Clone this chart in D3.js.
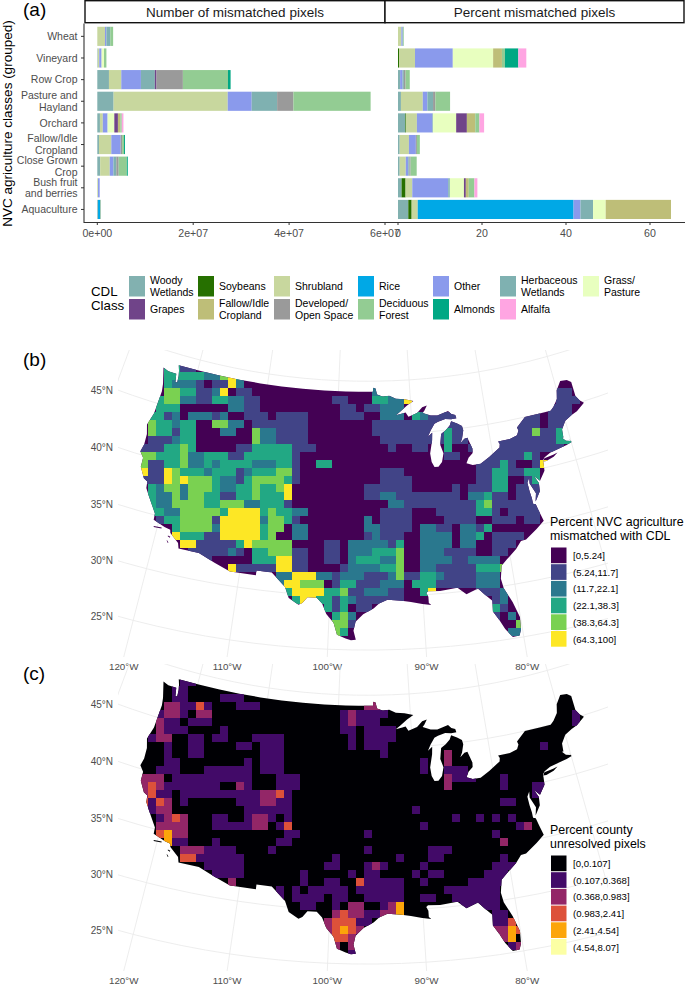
<!DOCTYPE html>
<html>
<head>
<meta charset="utf-8">
<script src="https://cdn.jsdelivr.net/npm/d3@7"></script>
<style>
  html, body { margin: 0; padding: 0; background: #fff; }
  text { font-family: "Liberation Sans", Arial, sans-serif; }
</style>
</head>
<body>
<div id="vis"></div>
<script>
// ---- panel (a) data ----
const nvcClasses = ["Wheat", "Vineyard", "Row Crop", "Pasture and\nHayland", "Orchard",
  "Fallow/Idle\nCropland", "Close Grown\nCrop", "Bush fruit\nand berries", "Aquaculture"];

// first seven are the top legend row, the rest the bottom one
const cdlClasses = ["Woody\nWetlands", "Soybeans", "Shrubland", "Rice", "Other", "Herbaceous\nWetlands", "Grass/\nPasture",
  "Grapes", "Fallow/Idle\nCropland", "Developed/\nOpen Space", "Deciduous\nForest", "Almonds", "Alfalfa"];

const cdlColors = ["#82B1B0", "#267000", "#C8D79E", "#00A8E6", "#8A9AEC", "#7FB1B1", "#E8FFBF",
  "#704489", "#BEBE78", "#9A9A9A", "#93CC93", "#00A884", "#FFA5E2"];

// same order as cdlClasses, units of 1e7 pixels
const pixelCounts = [
  [0, 0, .16, 0, .03, .08, 0, 0, 0, 0, .06, 0, 0],
  [.01, 0, .03, 0, .05, 0, .05, 0, 0, 0, .05, 0, 0],
  [.243, 0, .257, 0, .41, .29, 0, .035, 0, .55, .94, .055, 0],
  [.34, 0, 2.38, 0, .5, .53, 0, 0, 0, .34, 1.61, 0, 0],
  [.055, 0, .06, 0, .10, 0, .14, .075, .05, 0, .03, 0, .035],
  [.035, 0, .257, 0, .195, 0, 0, 0, 0, .03, .04, .02, 0],
  [.06, 0, .2, 0, .076, .06, 0, 0, 0, .05, .17, .02, 0],
  [0, 0, .015, 0, .035, 0, 0, 0, 0, 0, 0, 0, 0],
  [.015, 0, 0, .05, 0, 0, 0, 0, .01, 0, 0, 0, 0]
];

const percentMismatched = [
  [0, 0, .8, 0, .3, .15, 0, 0, 0, 0, .15, 0, 0],
  [0, .25, 3.8, 0, 9.0, 0, 9.6, 0, 2.1, 0, .7, 3.2, 1.9],
  [.5, 0, 0, 0, .6, .3, 0, 0, 0, .4, 1.0, 0, 0],
  [.7, 0, 5.2, 0, 1.1, 1.35, 0, 0, 0, .55, 3.5, 0, 0],
  [1.75, .15, 2.6, 0, 3.7, .15, 5.5, 2.55, 2.0, 0, 1.0, 0, 1.1],
  [.4, 0, 2.2, 0, 1.65, 0, 0, 0, 0, .25, .7, 0, 0],
  [.4, 0, 1.45, 0, .6, .25, 0, 0, 0, .3, 1.45, 0, 0],
  [.85, .95, 1.6, 0, 8.55, .4, 3.35, .45, .7, 0, 1.35, 0, .7],
  [2.45, .8, 1.45, 37.1, 1.65, 3.0, 3.0, 0, 15.55, 0, 0, 0, 0]
];

// ---- panels (b), (c) data ----
const mismatchBins = ["[0,5.24]", "(5.24,11.7]", "(11.7,22.1]", "(22.1,38.3]", "(38.3,64.3]", "(64.3,100]"];
const mismatchColors = ["#440154", "#414487", "#2A788E", "#22A884", "#7AD151", "#FDE725"];
const unresolvedBins = ["[0,0.107]", "(0.107,0.368]", "(0.368,0.983]", "(0.983,2.41]", "(2.41,4.54]", "(4.54,8.07]"];
const unresolvedColors = ["#000004", "#420A68", "#932667", "#DD513A", "#FCA50A", "#FCFFA4"];

// bin index per map block, one line per row of blocks: "west|east"
const mismatchRows = [
  "0003311|",
  "0003333322453|",
  "0003222101152|",
  "00044331125011|00002000000000000000000000011",
  "0034422113322110000000001|100033225000000000000000000111",
  "003330000002211|11011222000000000000000000111",
  "033120222120011101111|11100222032111111111111110111",
  "043323300442201111111|00001111111111111111111110111",
  "043313300022004221111|00001111111113111111111141131",
  "011123300000004221111|00000111111113110111111111133",
  "1113343000001133333111|0000001001100300111111111111",
  "44333422333113333331|000000000000011001111113100",
  "411334223233332223310033|00000000000000000111310015",
  "51154333233312333441|0000011100000000011331133",
  "11154544432213444431|0000011110000000011330013",
  "0324424443223343345|0001111110000010111330111",
  "0322424433113343335|0001122111111110223110111",
  "0322444433444223331|0000002211111111134111111",
  "033224444435555343322|0000011110001111133101111",
  "00133444415555524431|0002011110000111100111011",
  "000034444255555344022|0002211110221102213",
  "000053331155555340022|00012111002222022301111",
  "0000055111113544444000011|0222221300222202200111",
  "0000001111121033444110011|022233340022211110011",
  "0000000010000033355110011|02333224002222112222",
  "000000000005111115511|122223340022111113334",
  "0000000000000000022555221|22211124113321111222",
  "0000000000000000025544401|33111222033311111222",
  "0000000000000000003555533|411222110035000001112",
  "0000000000000000000355331|321111110000000000012",
  "0000000000000000000000031|301100000000000000031",
  "0000000000000000000000003|42000000000000000001020",
  "0000000000000000000000004|41000000000000000000004",
  "0000000000000000000000004|30000000000000000000022",
  "|00"
];

const unresolvedRows = [
  "0000011|",
  "000011|",
  "0000110000111|",
  "000221131000111|00022",
  "001221022|121111000000000000000000000001",
  "002110111|121110000000000000000000000001",
  "002111000010|1101111",
  "012200110110001111|0101111",
  "000100110000110111|01011100000000000000000001",
  "000100110000000111|00000100000002",
  "000110000000010111|00000000001002",
  "001110001111110111|0000000000100111",
  "22201111111111000111|000000000000021110001",
  "23211111110021000111|00000000000002000000100011",
  "2311011111111112231|00000000000000000000000011",
  "3132010000001112211|0000000000000000000011",
  "0122000000000111111|0000000001",
  "0012320001100122101|0000000000000010010101",
  "0022220001111122013|000000000010000000000012",
  "00342200000000000011|00010000000000000001",
  "0004110001000000011|000000000000000000002",
  "00000222111100001|00010000000111",
  "0000033111111000000000001|000000010001100000001",
  "0000000011111000000000011|0001210000100000000111",
  "000000000111100000001|010110000101100000111",
  "0000000000020000000010011|0031111100100000111111",
  "0000000000000000010101111|10111111000001111111",
  "0000000000000000010111101|10011111001100111111",
  "0000000000000000000011001|02200124000000011111",
  "0000000000000000000000002|322112240000000000011",
  "0000000000000000000000023|3311000000000000000113",
  "0000000000000000000000023|43200000000000000002243",
  "0000000000000000000000003|32100000000000000000240",
  "0000000000000000000000002|02100000000000000000012",
  "|01000000000000000000002"
];

// ---- US outline, lon/lat ----
const usOutline = [[-124.7,48.38],[-123.9,48.16],[-123.1,48.15],[-122.75,48.15],[-122.55,47.4],[-122.3,47.4],[-122.35,48.0],[-122.5,48.5],[-122.75,49],
  [-120,49],[-117,49],[-114,49],[-111,49],[-108,49],[-105,49],[-102,49],[-99,49],[-97.2,49],[-95.15,49],[-95.15,49.38],[-94.8,49.3],[-94.6,48.75],[-93.8,48.55],[-92.9,48.6],[-92,48.3],[-90.8,48.2],[-89.6,48],
  [-90.5,47.6],[-91.5,47.05],[-92.1,46.75],[-91.2,46.87],[-90.75,46.95],[-90.4,46.55],[-89.2,46.85],[-88.45,47.35],[-87.8,47.47],[-88.2,47],[-88.45,46.8],[-87.4,46.5],[-86.5,46.45],[-85,46.75],[-84.6,46.45],[-84.1,46.3],[-84,46],[-84.7,45.95],
  [-85.5,46.05],[-86.5,45.85],[-87,45.7],[-87.6,45.1],[-88,44.55],[-87.4,44.9],[-87.5,44.2],[-87.9,43],[-87.8,42.2],[-87.5,41.7],[-87,41.7],[-86.5,42.1],[-86.2,42.9],[-86.5,43.7],[-86.25,44.7],[-85.6,45],[-85,45.4],[-84.75,45.78],
  [-84,45.5],[-83.4,45.2],[-83.3,44.8],[-83.6,44.05],[-83.9,43.65],[-83.3,44],[-82.9,44.05],[-82.45,43],[-82.5,42.6],[-83.1,42.2],[-83.45,41.73],[-82.7,41.5],[-81.7,41.5],[-80.5,42],[-79,42.7],[-78.9,43],[-79.05,43.27],[-77.5,43.28],[-76.5,43.5],[-76.2,43.9],[-76.3,44.2],[-75,45],
  [-73,45],[-71.5,45],[-71,45.3],[-70.3,45.9],[-70,46.7],[-69.2,47.45],[-68.3,47.35],[-67.8,47.05],[-67.8,45.7],[-67.45,45.2],[-67,44.85],[-68.2,44.3],[-69,44.1],[-70,43.75],[-70.7,43.05],[-70.8,42.3],[-71,42.3],[-70.6,41.95],[-70,41.8],[-70.2,42.07],[-69.95,41.7],[-70.65,41.55],[-71.4,41.45],[-72.9,41.25],[-73.7,40.95],[-74,40.7],
  [-74,40.45],[-74.1,39.75],[-74.9,38.95],[-75.5,39.5],[-75.1,38.75],[-75.2,38],[-75.95,37.15],[-75.7,37.9],[-76.2,38.9],[-76.1,39.45],[-76.45,39],[-76.4,38.2],[-76.3,37.5],[-76.3,37],[-76,36.9],[-75.8,36.2],[-75.5,35.25],[-76.5,34.65],[-77.9,33.9],[-78.5,33.85],[-79.2,33.2],[-80.4,32.4],[-81.1,31.9],[-81.4,30.7],[-81.25,29.8],[-80.55,28.4],[-80.05,26.9],[-80.15,25.75],[-80.4,25.2],[-81.1,25.15],[-81.75,26],[-82.2,26.9],[-82.75,27.8],[-82.65,28.8],[-83.4,29.5],[-84,30.1],[-85.3,29.7],[-86.2,30.4],[-87.5,30.3],[-88.1,30.25],[-89.4,30.3],[-89.6,30.15],[-89.4,29.8],[-89.4,29.2],[-89.15,29],[-90.1,29.15],[-91.3,29.4],[-92.3,29.55],[-93.8,29.7],[-94.7,29.35],[-95.3,28.9],[-96.4,28.35],[-97.2,27.65],[-97.4,26.8],[-97.15,25.97],
  [-97.65,25.9],[-98.2,26.07],[-99.1,26.4],[-99.5,27.5],[-100.3,28.3],[-100.8,29.25],[-101.4,29.77],[-102.4,29.77],[-102.9,29.2],[-103.3,29],[-104.4,29.55],[-104.9,30.55],[-106.5,31.75],[-108.2,31.78],[-108.2,31.33],[-111.07,31.33],[-112.9,31.9],[-114.8,32.5],[-117.12,32.53],
  [-117.3,33],[-118.4,33.75],[-118.5,34.03],[-119.2,34.15],[-120.6,34.55],[-120.65,35.15],[-121.9,36.6],[-122.4,37.2],[-122.5,37.8],[-123,38],[-123.75,38.95],[-123.8,39.8],[-124.35,40.3],[-124.15,41],[-124.2,42],[-124.55,42.85],[-124.1,44],[-123.95,46.2],[-124.1,46.9],[-124.7,48.38]];
const longIsland = [[-74,40.6],[-73.75,40.87],[-72.6,41],[-72,41.1],[-72.6,40.8],[-73.6,40.58],[-74,40.6]];
const channelIslands = [
  [[-120.4,34],[-119.5,34.05],[-119.5,33.95],[-120.4,33.9],[-120.4,34]],
  [[-118.6,33.48],[-118.3,33.4],[-118.35,33.3],[-118.6,33.4],[-118.6,33.48]],
  [[-118.6,33.05],[-118.35,32.85],[-118.45,32.8],[-118.6,33.0],[-118.6,33.05]]
];

const latTicks = [45, 40, 35, 30, 25];
const lonTicks = [-120, -110, -100, -90, -80];

// ---- layout ----
const width = 685, height = 985;
const svg = d3.select("#vis").append("svg").attr("width", width).attr("height", height);
const greyText = "#4D4D4D";

function panelLabel(txt, y) {
  svg.append("text").attr("x", 23).attr("y", y).attr("font-size", 19).attr("fill", "#000").text(txt);
}

// ---- (a) stacked bars ----
const y = d3.scaleBand().domain(nvcClasses).range([25.7, 220.1]).paddingInner(0.115).paddingOuter(0.05);
const xCount = d3.scaleLinear().domain([0, 6]).range([97.3, 385]);
const xPct = d3.scaleLinear().domain([0, 60]).range([398, 650]);
const stack = d3.stack().keys(d3.range(cdlClasses.length));

function drawBars(values, x) {
  const g = svg.append("g");
  stack(values).forEach((s, k) => {
    g.selectAll(null).data(s).join("rect")
      .attr("x", d => x(d[0]))
      .attr("width", d => x(d[1]) - x(d[0]))
      .attr("y", (d, i) => y(nvcClasses[i]))
      .attr("height", y.bandwidth())
      .attr("fill", cdlColors[k]);
  });
}
drawBars(pixelCounts, xCount);
drawBars(percentMismatched, xPct);

// strips
[["Number of mismatched pixels", 85, 385], ["Percent mismatched pixels", 385, 684]].forEach(s => {
  svg.append("rect").attr("x", s[1]).attr("y", .7).attr("width", s[2] - s[1]).attr("height", 22)
    .attr("fill", "#fff").attr("stroke", "#111").attr("stroke-width", 1.4);
  svg.append("text").attr("x", (s[1] + s[2]) / 2).attr("y", 16.6).attr("text-anchor", "middle")
    .attr("font-size", 13.5).attr("fill", "#1a1a1a").text(s[0]);
});

// axes
const axisLine = "#333";
svg.append("path").attr("d", "M84,23.5V222.5H685").attr("fill", "none").attr("stroke", axisLine).attr("stroke-width", 1.1);
const axG = svg.append("g");
[0, 2, 4, 6].forEach(v => {
  axG.append("line").attr("x1", xCount(v)).attr("x2", xCount(v)).attr("y1", 222).attr("y2", 225).attr("stroke", axisLine);
  axG.append("text").attr("x", xCount(v)).attr("y", 236.5).attr("text-anchor", "middle").attr("font-size", 10.6).attr("fill", greyText)
    .text(v === 0 ? "0e+00" : v + "e+07");
});
[0, 20, 40, 60].forEach(v => {
  axG.append("line").attr("x1", xPct(v)).attr("x2", xPct(v)).attr("y1", 222).attr("y2", 225).attr("stroke", axisLine);
  axG.append("text").attr("x", xPct(v)).attr("y", 236.5).attr("text-anchor", "middle").attr("font-size", 10.6).attr("fill", greyText).text(v);
});
nvcClasses.forEach(c => {
  const cy = y(c) + y.bandwidth() / 2;
  axG.append("line").attr("x1", 81).attr("x2", 84).attr("y1", cy).attr("y2", cy).attr("stroke", axisLine);
  const lines = c.split("\n");
  lines.forEach((l, i) => {
    axG.append("text").attr("x", 77.5).attr("y", cy + 3.7 + (i - (lines.length - 1) / 2) * 11.6)
      .attr("text-anchor", "end").attr("font-size", 10.5).attr("fill", greyText).text(l);
  });
});
svg.append("text").attr("transform", "translate(12,123.5) rotate(-90)").attr("text-anchor", "middle")
  .attr("font-size", 13.5).attr("fill", "#000").text("NVC agriculture classes (grouped)");
panelLabel("(a)", 16);

// ---- CDL legend ----
svg.append("text").attr("x", 91).attr("y", 295.5).attr("font-size", 13.3).text("CDL");
svg.append("text").attr("x", 91).attr("y", 310).attr("font-size", 13.3).text("Class");
const swatchX = [129, 198, 274, 358, 433, 500, 583];
cdlClasses.forEach((c, k) => {
  const col = k < 7 ? k : k - 7, top = k < 7 ? 276 : 299;
  svg.append("rect").attr("x", swatchX[col]).attr("y", top).attr("width", 16).attr("height", 20.5).attr("fill", cdlColors[k]);
  const lines = c.split("\n");
  lines.forEach((l, j) => {
    svg.append("text").attr("x", swatchX[col] + 21).attr("y", top + 14 + (j - (lines.length - 1) / 2) * 11.6)
      .attr("font-size", 10.5).attr("fill", "#000").text(l);
  });
});

// ---- maps ----
const xBlock = d3.scaleBand().domain(d3.range(56)).range([140, 588]);

function drawMap(id, dy, rows, colors) {
  const projection = d3.geoConicEqualArea().parallels([29.5, 45.5]).rotate([96, 0]).center([0, 0]).scale(615).translate([367, 900 + dy]);
  const path = d3.geoPath(projection);
  const land = { type: "MultiPolygon", coordinates: [[usOutline], [longIsland]].concat(channelIslands.map(p => [p])) };

  const defs = svg.append("defs");
  defs.append("clipPath").attr("id", "panel" + id).append("rect").attr("x", 118).attr("y", 350 + dy).attr("width", 490).attr("height", 307);
  defs.append("clipPath").attr("id", "land" + id).append("path").attr("d", path(land));

  svg.append("path").attr("clip-path", `url(#panel${id})`)
    .attr("d", path(d3.geoGraticule().extent([[-140, 15], [-50, 60]]).step([10, 5])()))
    .attr("fill", "none").attr("stroke", "#EBEBEB").attr("stroke-width", 0.9);

  svg.append("path").attr("d", path(land)).attr("fill", colors[0]);

  const yBlock = d3.scaleBand().domain(d3.range(rows.length)).range([364 + dy, 364 + dy + 8 * rows.length]);
  const blocks = [];
  rows.forEach((row, r) => {
    const [west, east] = row.split("|");
    (west.padEnd(25, "0") + east).split("").forEach((ch, c) => {
      if (ch !== "0") blocks.push({ r, c, bin: +ch });
    });
  });
  svg.append("g").attr("clip-path", `url(#land${id})`).selectAll("rect").data(blocks).join("rect")
    .attr("x", d => xBlock(d.c)).attr("y", d => yBlock(d.r))
    .attr("width", xBlock.bandwidth()).attr("height", yBlock.bandwidth())
    .attr("fill", d => colors[d.bin]);

  // labels sit where each graticule line enters the panel
  latTicks.forEach(lat => {
    let yy = 0;
    for (let lon = -140; lon < -100; lon += 0.02) {
      const p = projection([lon, lat]);
      if (p[0] >= 118) { yy = p[1]; break; }
    }
    svg.append("text").attr("x", 113).attr("y", yy + 3.6).attr("text-anchor", "end").attr("font-size", 10).attr("fill", greyText).text(lat + "°N");
  });
  lonTicks.forEach(lon => {
    let xx = 0;
    for (let lat = 10; lat < 50; lat += 0.02) {
      const p = projection([lon, lat]);
      if (p[1] <= 657 + dy) { xx = p[0]; break; }
    }
    svg.append("text").attr("x", xx).attr("y", 669.5 + dy).attr("text-anchor", "middle").attr("font-size", 9.8).attr("fill", greyText).text(Math.abs(lon) + "°W");
  });
}
drawMap("b", 0, mismatchRows, mismatchColors);
drawMap("c", 314, unresolvedRows, unresolvedColors);

panelLabel("(b)", 366);
panelLabel("(c)", 680);

function binLegend(title, bins, colors, titleY, top) {
  title.forEach((t, i) => svg.append("text").attr("x", 550).attr("y", titleY + i * 13.5).attr("font-size", 12.4).attr("fill", "#000").text(t));
  const ly = d3.scaleBand().domain(d3.range(bins.length)).range([top, top + 100.2]);
  bins.forEach((b, i) => {
    svg.append("rect").attr("x", 551).attr("y", ly(i) + .5).attr("width", 15.5).attr("height", ly.bandwidth() - 1).attr("fill", colors[i]);
    svg.append("text").attr("x", 573).attr("y", ly(i) + 12).attr("font-size", 9.6).attr("fill", "#000").text(b);
  });
}
binLegend(["Percent NVC agriculture", "mismatched with CDL"], mismatchBins, mismatchColors, 526, 547);
binLegend(["Percent county", "unresolved pixels"], unresolvedBins, unresolvedColors, 834, 855);
</script>
</body>
</html>
